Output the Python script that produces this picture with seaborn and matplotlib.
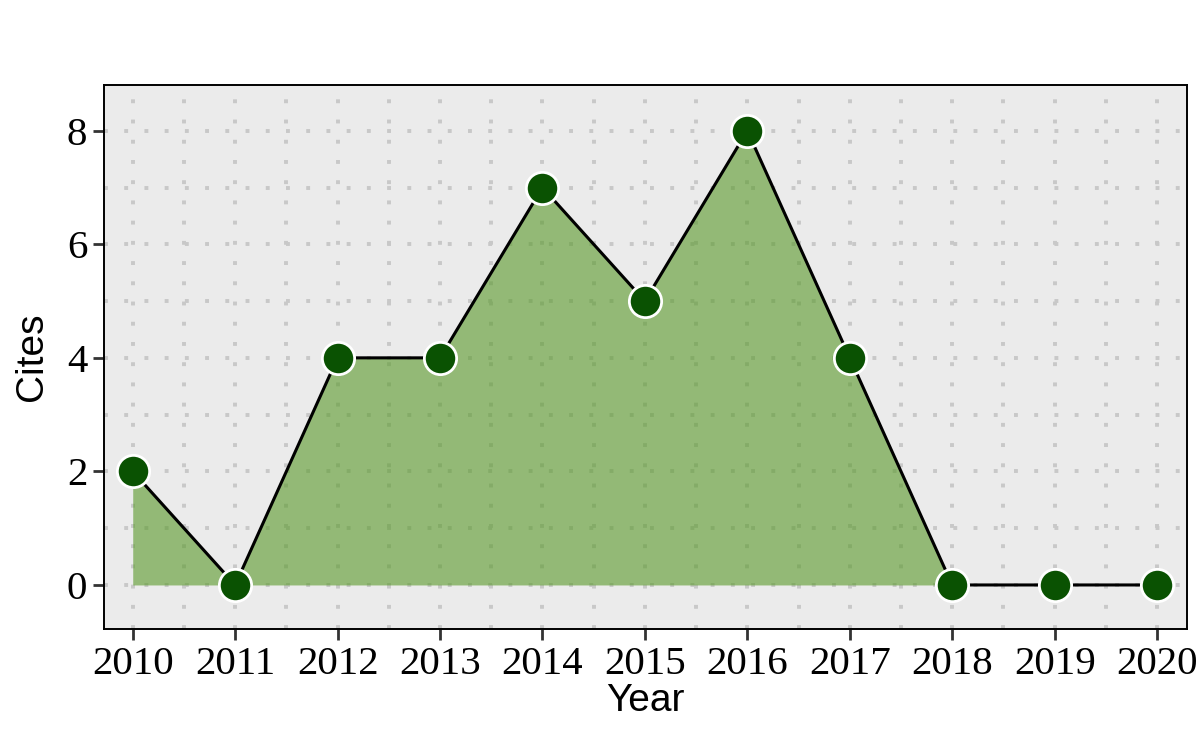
import pandas as pd
import seaborn as sns
import matplotlib.pyplot as plt
from matplotlib.ticker import MultipleLocator

years = [2010, 2011, 2012, 2013, 2014, 2015, 2016, 2017, 2018, 2019, 2020]
cites = [2, 0, 4, 4, 7, 5, 8, 4, 0, 0, 0]

df = pd.DataFrame({'Year': years, 'Cites': cites})

sns.set_theme(style='ticks')
plt.rcParams['font.family'] = ['Liberation Serif', 'DejaVu Serif']
plt.rcParams['text.color'] = 'black'
plt.rcParams['axes.labelcolor'] = 'black'

fig, ax = plt.subplots(figsize=(12, 7.5), dpi=100)
fig.subplots_adjust(left=0.0867, right=0.989, top=0.887, bottom=0.161)
ax.set_facecolor('#ebebeb')

# dotted grid, major + minor
ax.xaxis.set_major_locator(MultipleLocator(1))
ax.xaxis.set_minor_locator(MultipleLocator(0.5))
ax.yaxis.set_major_locator(MultipleLocator(2))
ax.yaxis.set_minor_locator(MultipleLocator(1))
for which in ['major', 'minor']:
    ax.grid(True, which=which, color='#c8c8c8', linewidth=2.8,
            linestyle=(0, (1, 4.2)), dash_capstyle='butt')
ax.set_axisbelow(True)

# area under the curve
ax.fill_between(df['Year'], df['Cites'], 0, color='#589928', alpha=0.6,
                linewidth=0, zorder=2)
sns.lineplot(data=df, x='Year', y='Cites', color='black', linewidth=2.2,
             ax=ax, zorder=3)
sns.scatterplot(data=df, x='Year', y='Cites', color='#0a5202', s=540,
                edgecolor='white', linewidth=2, ax=ax, zorder=4)

ax.set_xlim(2009.72, 2020.29)
ax.set_ylim(-0.78, 8.81)
ax.set_xticks(years)
ax.set_xticklabels([str(y) for y in years])

ax.tick_params(axis='both', which='major', labelsize=29.5, length=8, width=2,
               color='#333333', labelcolor='black', pad=4)
ax.tick_params(axis='both', which='minor', length=0)
for s in ax.spines.values():
    s.set_linewidth(1.4)
    s.set_color('black')

ax.set_xlabel('Year', fontsize=28, family=['Liberation Sans', 'DejaVu Sans'], labelpad=0)
ax.set_ylabel('Cites', fontsize=28, family=['Liberation Sans', 'DejaVu Sans'], labelpad=12)

plt.savefig('out.png', dpi=100)
